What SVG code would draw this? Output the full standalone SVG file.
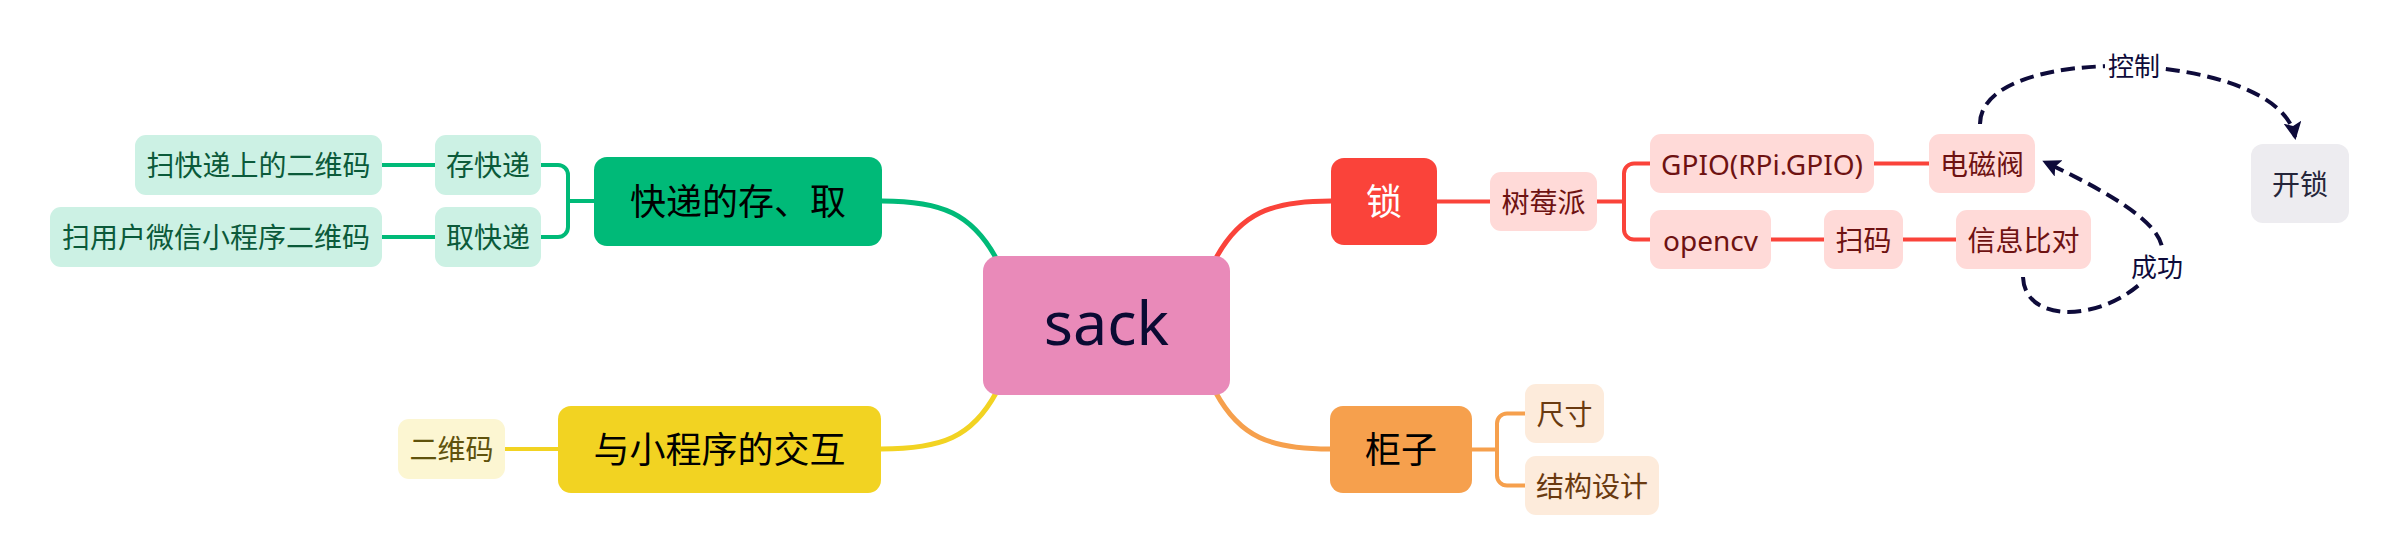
<svg xmlns="http://www.w3.org/2000/svg" width="2400" height="560" viewBox="0 0 2400 560">
<style>
text{font-family:"Noto Sans","Noto Sans CJK SC",sans-serif;text-anchor:middle;dominant-baseline:central}
.l1{font-size:36px}
.l2{font-size:28px}
.ln{fill:none;stroke-linecap:round;stroke-linejoin:round}
.main{stroke-width:5}
.sub{stroke-width:4}
.g{stroke:#00BA78}.r{stroke:#FA433A}.o{stroke:#F6A04D}.y{stroke:#F2D322}
.rel{fill:none;stroke:#0E0B3A;stroke-width:4;stroke-dasharray:14 7}
.lab{font-size:26px;fill:#0E0B3A}
</style>
<defs>
<marker id="arr" viewBox="0 0 12 12" refX="10" refY="6" markerWidth="4.5" markerHeight="4.5" orient="auto" markerUnits="strokeWidth">
<path d="M0,0 L12,6 L0,12 L2.5,6 z" fill="#0E0B3A"/>
</marker>
</defs>
<rect width="2400" height="560" fill="#fff"/>
<g id="connectors">
<path class="ln main g" d="M996,258 C972,214 942,201 882,201"/>
<path class="ln main r" d="M1216,258 C1240,214 1270,201 1331,201"/>
<path class="ln main y" d="M996,393 C972,437 942,449 881,449"/>
<path class="ln main o" d="M1216,393 C1240,437 1270,449 1330,449"/>
<path class="ln sub g" d="M382,165 H435 M382,237 H435"/>
<path class="ln sub g" d="M541,165 H558 A10,10 0 0 1 568,175 V227 A10,10 0 0 1 558,237 H541 M568,201 H594"/>
<path class="ln sub r" d="M1437,201.5 H1490 M1597,201.5 H1624 M1650,163.5 H1634 A10,10 0 0 0 1624,173.5 V229.5 A10,10 0 0 0 1634,239.5 H1650"/>
<path class="ln sub r" d="M1874,163.5 H1929 M1771,239.5 H1824 M1903,239.5 H1956"/>
<path class="ln sub y" d="M505,449 H558"/>
<path class="ln sub o" d="M1472,449.5 H1497 M1525,413.5 H1507 A10,10 0 0 0 1497,423.5 V475.5 A10,10 0 0 0 1507,485.5 H1525"/>
<path class="rel" d="M1980,124 C1980,40 2280,50 2295,137" marker-end="url(#arr)"/>
<path class="rel" d="M2023,277 C2025,330 2120,320 2157,265 C2180,235 2125,200 2045,162" marker-end="url(#arr)"/>
<rect x="2105" y="52" width="58" height="30" fill="#fff"/>
<text class="lab" x="2134" y="66">控制</text>
<rect x="2129" y="251" width="56" height="32" fill="#fff"/>
<text class="lab" x="2157" y="267">成功</text>
</g>
<g id="n-root">
<rect x="983" y="256" width="247" height="139" rx="15" fill="#E98AB9"/>
<text x="1106.5" y="345" style="font-size:61px;fill:#0B0A33;dominant-baseline:auto">sack</text>
</g>
<g id="n-kuaidi">
<rect x="594" y="157" width="288" height="89" rx="13" fill="#00BA78"/>
<text class="l1" x="738" y="201.5" fill="#000">快递的存、取</text>
</g>
<g id="n-cun">
<rect x="435" y="135" width="106" height="60" rx="11" fill="#CCF1E4"/>
<text class="l2" x="488" y="165" fill="#0B5A3A">存快递</text>
</g>
<g id="n-qu">
<rect x="435" y="207" width="106" height="60" rx="11" fill="#CCF1E4"/>
<text class="l2" x="488" y="237" fill="#0B5A3A">取快递</text>
</g>
<g id="n-scan1">
<rect x="135" y="135" width="247" height="60" rx="11" fill="#CCF1E4"/>
<text class="l2" x="258.5" y="165" fill="#0B5A3A">扫快递上的二维码</text>
</g>
<g id="n-scan2">
<rect x="50" y="207" width="332" height="60" rx="11" fill="#CCF1E4"/>
<text class="l2" x="216" y="237" fill="#0B5A3A">扫用户微信小程序二维码</text>
</g>
<g id="n-mini">
<rect x="558" y="406" width="323" height="87" rx="13" fill="#F2D322"/>
<text class="l1" x="719.5" y="449.5" fill="#000">与小程序的交互</text>
</g>
<g id="n-qr">
<rect x="398" y="419" width="107" height="60" rx="11" fill="#FCF6D2"/>
<text class="l2" x="451.5" y="449" fill="#5F520C">二维码</text>
</g>
<g id="n-lock">
<rect x="1331" y="158" width="106" height="87" rx="13" fill="#FA433A"/>
<text class="l1" x="1384" y="201.5" fill="#fff">锁</text>
</g>
<g id="n-pi">
<rect x="1490" y="172" width="107" height="59" rx="11" fill="#FFDAD8"/>
<text class="l2" x="1543.5" y="201.5" fill="#6E1212">树莓派</text>
</g>
<g id="n-gpio">
<rect x="1650" y="134" width="224" height="59" rx="11" fill="#FFDAD8"/>
<text class="l2" x="1762" y="163.5" fill="#6E1212">GPIO(RPi.GPIO)</text>
</g>
<g id="n-valve">
<rect x="1929" y="134" width="106" height="59" rx="11" fill="#FFDAD8"/>
<text class="l2" x="1982" y="163.5" fill="#6E1212">电磁阀</text>
</g>
<g id="n-opencv">
<rect x="1650" y="210" width="121" height="59" rx="11" fill="#FFDAD8"/>
<text class="l2" x="1710.5" y="239.5" fill="#6E1212">opencv</text>
</g>
<g id="n-scan">
<rect x="1824" y="210" width="79" height="59" rx="11" fill="#FFDAD8"/>
<text class="l2" x="1863.5" y="239.5" fill="#6E1212">扫码</text>
</g>
<g id="n-compare">
<rect x="1956" y="210" width="135" height="59" rx="11" fill="#FFDAD8"/>
<text class="l2" x="2023.5" y="239.5" fill="#6E1212">信息比对</text>
</g>
<g id="n-unlock">
<rect x="2251" y="144" width="98" height="79" rx="12" fill="#EDECF0"/>
<text class="l2" x="2300" y="183.5" fill="#25253A">开锁</text>
</g>
<g id="n-cabinet">
<rect x="1330" y="406" width="142" height="87" rx="13" fill="#F6A04D"/>
<text class="l1" x="1401" y="449.5" fill="#000">柜子</text>
</g>
<g id="n-size">
<rect x="1525" y="384" width="79" height="59" rx="11" fill="#FDEBDB"/>
<text class="l2" x="1564.5" y="413.5" fill="#6A3A10">尺寸</text>
</g>
<g id="n-struct">
<rect x="1525" y="456" width="134" height="59" rx="11" fill="#FDEBDB"/>
<text class="l2" x="1592" y="485.5" fill="#6A3A10">结构设计</text>
</g>
</svg>
